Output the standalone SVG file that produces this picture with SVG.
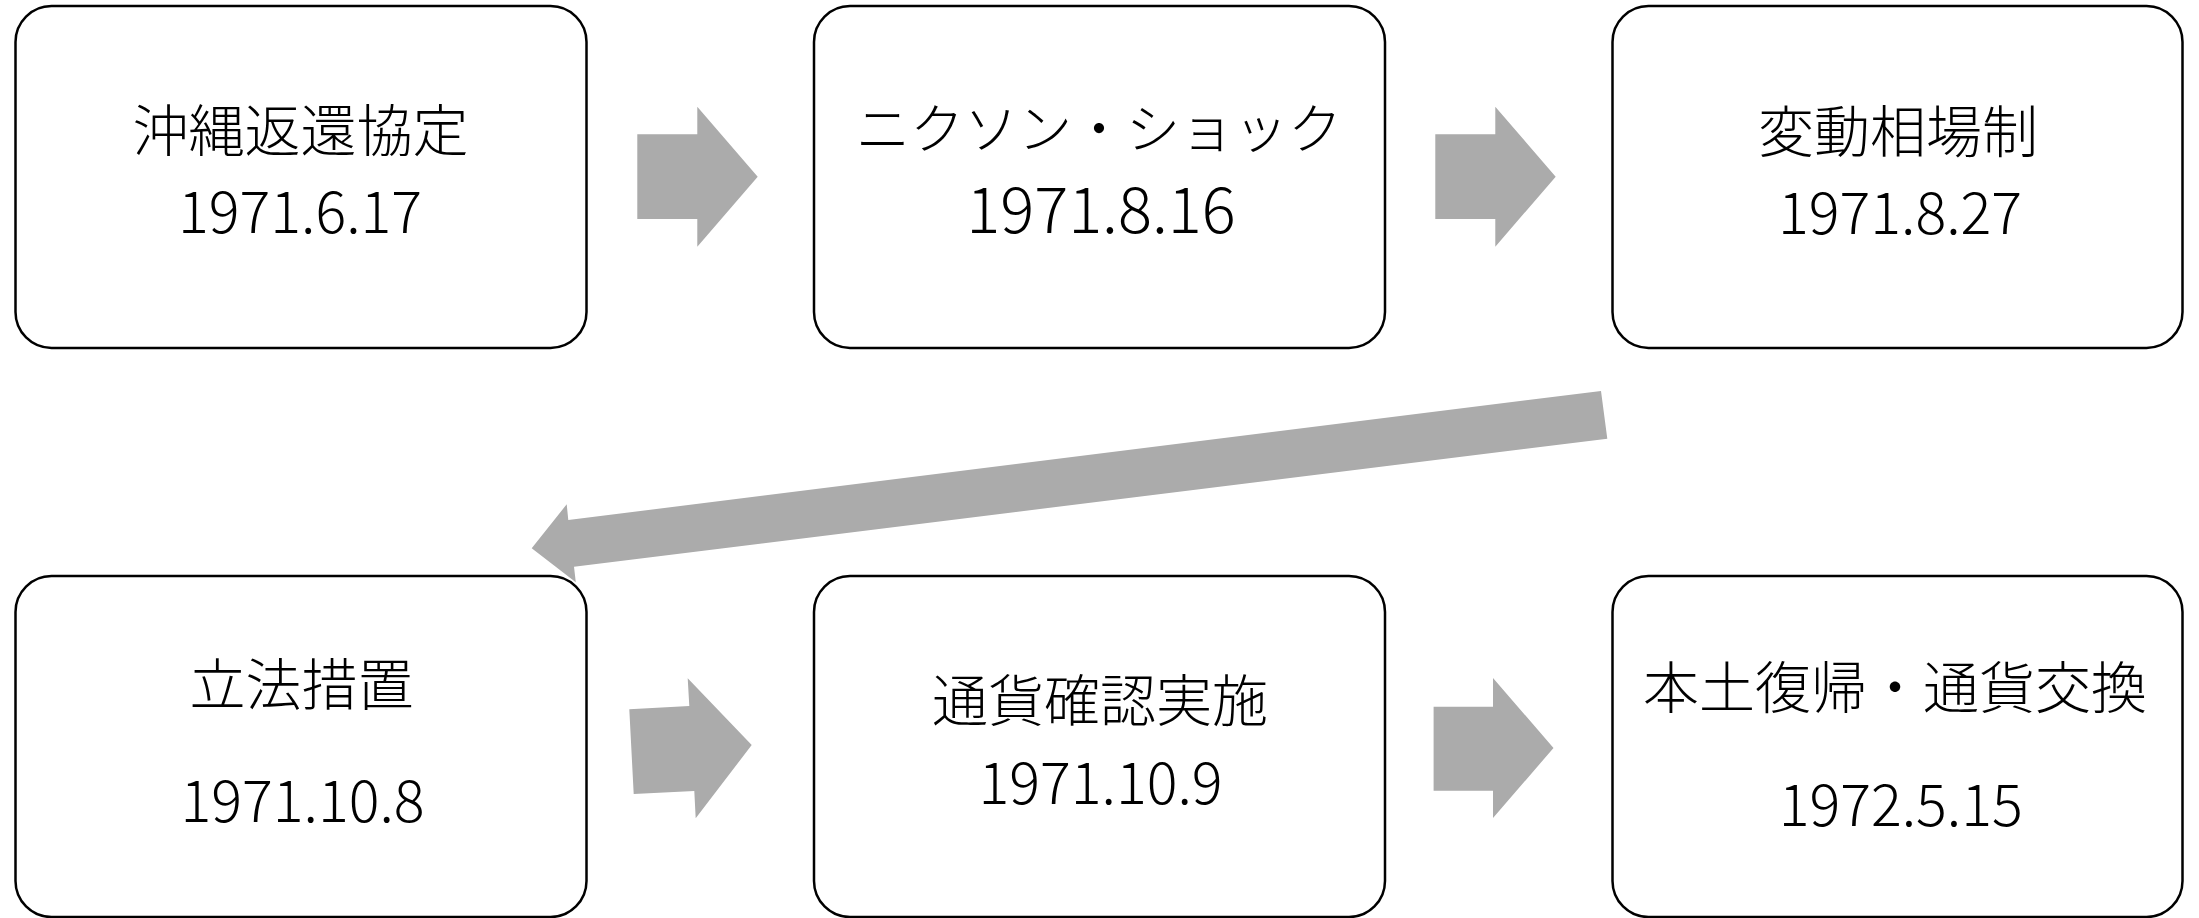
<svg xmlns="http://www.w3.org/2000/svg" width="2199" height="918" viewBox="0 0 2199 918">
<style>
.box{fill:#ffffff;stroke:#000000;stroke-width:2.5}
.arrow{fill:#ababab;stroke:none}
text{font-family:"Noto Sans CJK JP","Noto Sans",sans-serif;font-weight:300;fill:#000000;text-anchor:middle;font-size:56px}
text.d{font-size:57.5px}
</style>
<rect width="2199" height="918" fill="#ffffff"/>
<g id="node1">
<rect class="box" x="15.5" y="6" width="571" height="342" rx="36" ry="36"/>
<text x="300.5" y="150.5">沖縄返還協定</text>
<text class="d" x="300" y="233.3">1971.6.17</text>
</g>
<g id="node2">
<rect class="box" x="814" y="6" width="571" height="342" rx="36" ry="36"/>
<text x="1099" y="149" style="font-size:54px">ニクソン・ショック</text>
<text class="d" x="1101" y="233.3" style="font-size:63.5px">1971.8.16</text>
</g>
<g id="node3">
<rect class="box" x="1612.5" y="6" width="570" height="342" rx="36" ry="36"/>
<text x="1898" y="151.5">変動相場制</text>
<text class="d" x="1900" y="234">1971.8.27</text>
</g>
<g id="node4">
<rect class="box" x="15.5" y="576" width="571" height="341" rx="36" ry="36"/>
<text x="301.5" y="705">立法措置</text>
<text class="d" x="302.5" y="821.7">1971.10.8</text>
</g>
<g id="node5">
<rect class="box" x="814" y="576" width="571" height="341" rx="36" ry="36"/>
<text x="1100" y="721">通貨確認実施</text>
<text class="d" x="1100.5" y="804">1971.10.9</text>
</g>
<g id="node6">
<rect class="box" x="1612.5" y="576" width="570" height="341" rx="36" ry="36"/>
<text x="1895" y="708">本土復帰・通貨交換</text>
<text class="d" x="1900.7" y="826">1972.5.15</text>
</g>
<g id="connectors">
<polygon class="arrow" points="637.3,134.3 697.3,134.3 697.3,106.7 757.7,176.7 697.3,246.7 697.3,219 637.3,219"/>
<polygon class="arrow" points="1435.3,134.3 1495.3,134.3 1495.3,106.7 1555.7,176.7 1495.3,246.7 1495.3,219 1435.3,219"/>
<polygon class="arrow" points="1601,391 1607.3,438.7 574,566.7 575.8,582.3 531.7,548.3 566.7,504.3 568.3,520"/>
<polygon class="arrow" points="629.3,709.3 689.3,706 687.7,678.3 751.7,745 695.7,818.3 694.3,791 633.7,794"/>
<polygon class="arrow" points="1433.6,706.7 1493,706.7 1493,678 1553.5,748 1493,818 1493,790.7 1433.6,790.7"/>
</g>
</svg>
